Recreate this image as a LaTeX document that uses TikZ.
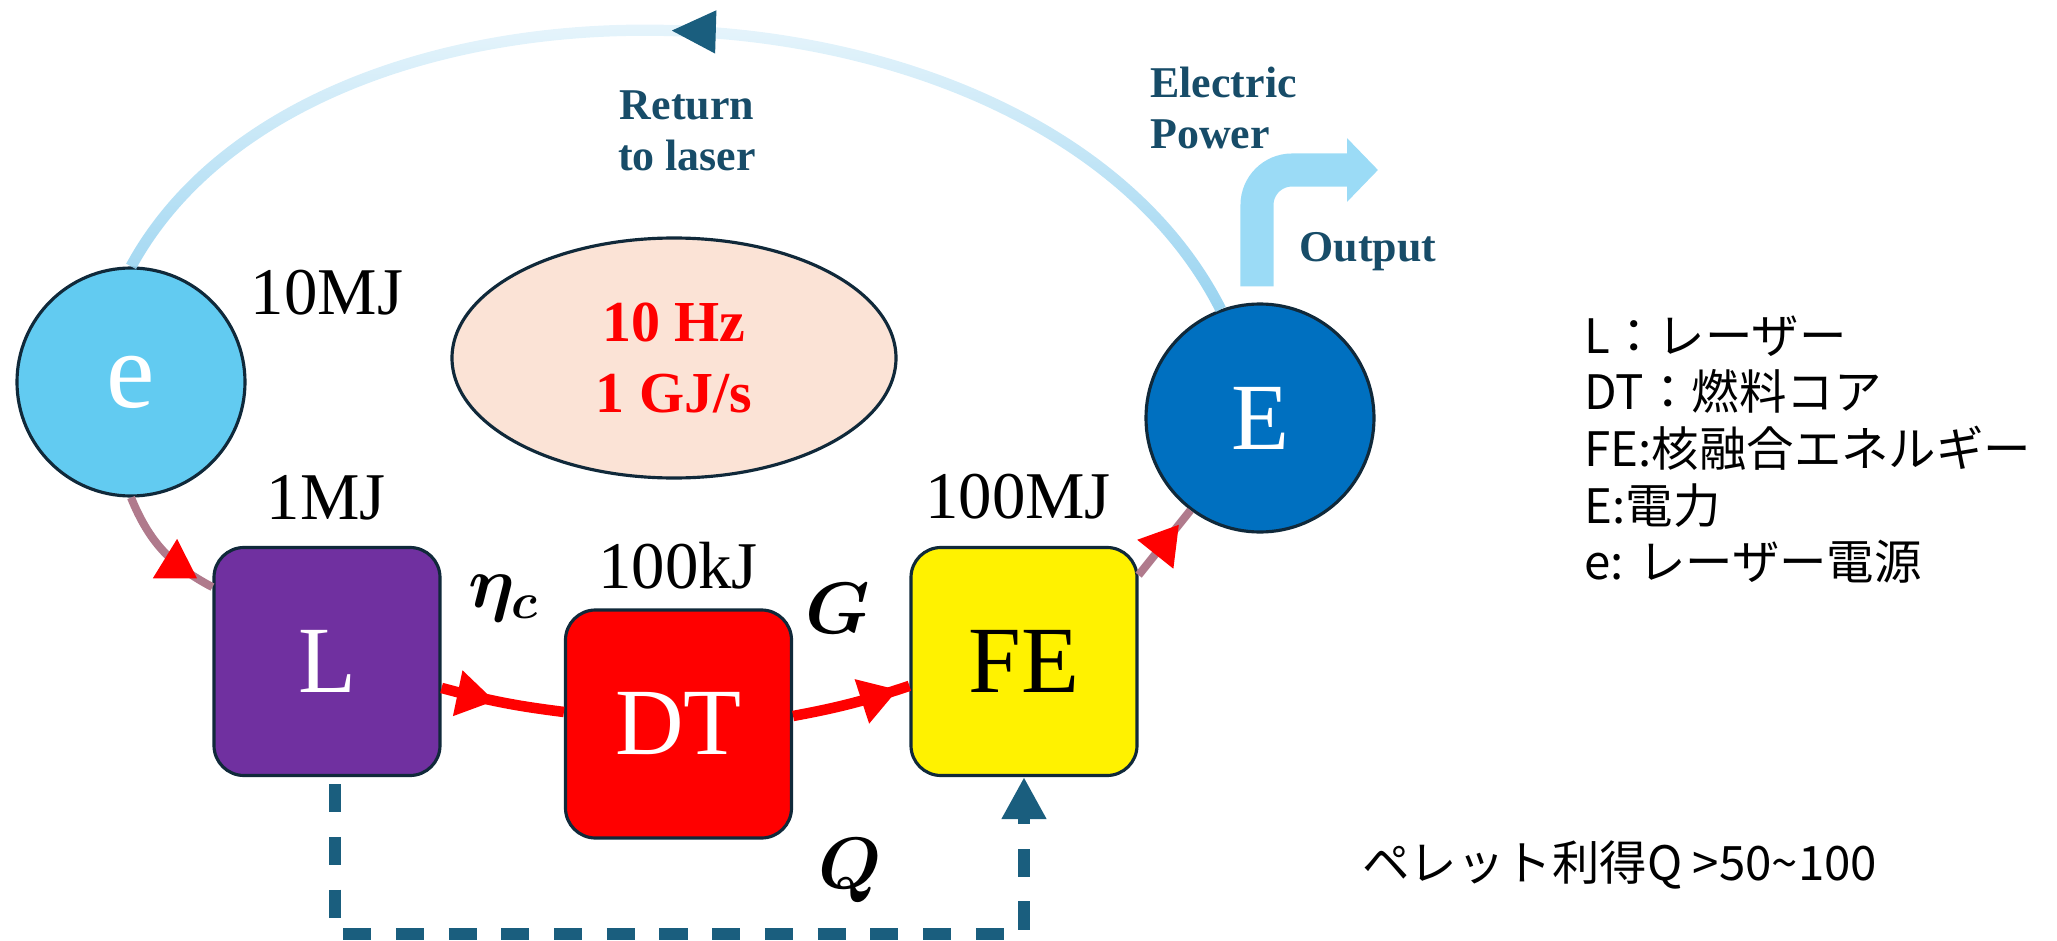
\documentclass[tikz,border=0pt]{standalone}
\usepackage{fontspec}
\usepackage{amsmath}
\setmainfont{Liberation Serif}
\newfontfamily\jpfont{Noto Sans CJK JP}
\usetikzlibrary{arrows.meta,decorations.markings,fadings,shapes.geometric}

\definecolor{lasercol}{HTML}{7030A0}
\definecolor{supplycol}{HTML}{62CBF1}
\definecolor{powercol}{HTML}{0070C0}
\definecolor{peach}{HTML}{FBE3D6}
\definecolor{rim}{HTML}{10293A}
\definecolor{labelcol}{HTML}{174C68}
\definecolor{qcol}{HTML}{1A5E7E}
\definecolor{arcblue}{HTML}{98D3F0}
\definecolor{outblue}{HTML}{9BDBF6}
\definecolor{mauve}{HTML}{B07A8C}

\tikzfading[name=fadeup, top color=transparent!100, bottom color=transparent!0]

\tikzset{
  stage/.style={rectangle, rounded corners=0.3cm, draw=rim, line width=0.9pt,
    minimum width=2.26cm, minimum height=2.28cm, font=\fontsize{27}{27}\selectfont},
  source/.style={circle, draw=rim, line width=0.9pt, minimum size=2.28cm,
    text=white, font=\fontsize{27}{27}\selectfont},
  energy/.style={font=\fontsize{19}{19}\selectfont},
  factor/.style={font=\fontsize{22}{22}\selectfont},
  caption/.style={text=labelcol, font=\bfseries\fontsize{12.5}{14.5}\selectfont},
  legend/.style={anchor=base west, font=\jpfont\fontsize{13.5}{16}\selectfont},
  flow/.style={red, line width=3pt, postaction={decorate},
    decoration={markings, mark=at position #1 with
      {\arrow{Triangle[length=3.8mm, width=4.4mm, color=red]}}}},
  feed/.style={flow=#1, mauve, line width=2.3pt},
}

\begin{document}
\begin{tikzpicture}
  \useasboundingbox (0,0) rectangle (20.57,9.40);

  % sources and stages
  \node[source, fill=supplycol, font=\fontsize{31}{31}\selectfont] (e) at (1.31,5.58) {e};
  \node[source, fill=powercol] (E) at (12.60,5.22) {E};
  \node[ellipse, draw=rim, line width=0.9pt, fill=peach, minimum width=4.44cm,
        minimum height=2.40cm, text=red, align=center,
        font=\bfseries\fontsize{16.5}{20}\selectfont] (rate) at (6.74,5.82) {10 Hz\\1 GJ/s};
  \node[stage, fill=lasercol, text=white] (L) at (3.27,2.785) {L};
  \node[stage, fill=red, text=white] (DT) at (6.785,2.16) {DT};
  \node[stage, fill=yellow] (FE) at (10.24,2.785) {FE};

  % energies and gains
  \node[energy] (eMJ) at (3.27,6.47) {10MJ};
  \node[energy] (LMJ) at (3.26,4.42) {1MJ};
  \node[energy] (DTkJ) at (6.78,3.74) {100kJ};
  \node[energy] (FEMJ) at (10.18,4.43) {100MJ};
  \node[factor] (eta) at (5.04,3.42) {$\boldsymbol{\eta_c}$};
  \node[factor] (gain) at (8.38,3.32) {$\boldsymbol{G}$};
  \node[factor] (qval) at (8.50,0.69) {$\boldsymbol{Q}$};

  % main chain
  \draw[feed=0.86] (e.south) to[bend right=20] (L.147);
  \draw[flow=0.44] (L.-13) to[bend right=4] (DT.174);
  \draw[flow=0.9] (DT.4) to[bend right=4] (FE.192);
  \draw[feed=0.78] (FE.37) -- (E.233);

  % return loop
  \draw[arcblue, line width=3.2pt, path fading=fadeup]
    (e.north) .. controls (3.11,10.05) and (10.41,9.85) .. (E.110);
  \path[postaction={decorate}, decoration={markings, mark=at position 0.49 with
      {\arrowreversed{Triangle[length=4.4mm, width=4.3mm, color=qcol]}}}]
    (e.north) .. controls (3.11,10.05) and (10.41,9.85) .. (E.110);
  \node[caption, align=center] (back) at (6.87,8.09) {Return\\to laser};

  % output
  \coordinate (outtip) at (13.78,7.70);
  \draw[outblue, line width=9.4pt, rounded corners=0.35cm, -{Triangle[length=3.1mm, width=6.2mm]}]
    ([xshift=-0.03cm, yshift=0.16cm]E.north) |- (outtip);
  \node[caption, align=left, anchor=west] (elec) at (11.38,8.32) {Electric\\Power};
  \node[caption] (out) at (13.68,6.88) {Output};

  % pellet gain
  \draw[qcol, line width=3.6pt, dash pattern=on 8pt off 7pt, -{Triangle[length=4.2mm, width=4.2mm]}]
    ([xshift=0.08cm, yshift=-0.07cm]L.south) -- ++(0,-1.50) -| (FE.south);

  % legend
  \foreach \txt [count=\i] in {L：レーザー, DT：燃料コア, FE:核融合エネルギー, E:電力, e: レーザー電源}
    \node[legend] (leg\i) at (15.72,{5.87-0.567*(\i-1)}) {\txt};
  \node[legend] (pgain) at (13.50,0.60) {ペレット利得Q >50\textasciitilde100};
\end{tikzpicture}
\end{document}
